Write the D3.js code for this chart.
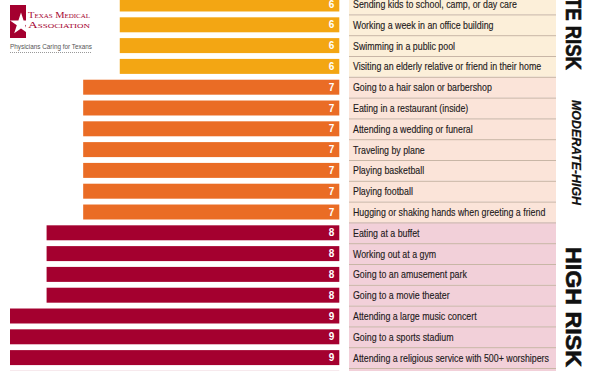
<!DOCTYPE html>
<html>
<head>
<meta charset="utf-8">
<script src="https://cdn.jsdelivr.net/npm/d3@7"></script>
<style>
  body { margin: 0; background: #fff; }
  svg { display: block; }
  .lbl { font-family: "Liberation Sans", "Roboto", sans-serif; }
</style>
</head>
<body>
<div id="chart"></div>
<script>
// activities, top to bottom (last one is cut off by the bottom edge)
const activities = [
  "Sending kids to school, camp, or day care",
  "Working a week in an office building",
  "Swimming in a public pool",
  "Visiting an elderly relative or friend in their home",
  "Going to a hair salon or barbershop",
  "Eating in a restaurant (inside)",
  "Attending a wedding or funeral",
  "Traveling by plane",
  "Playing basketball",
  "Playing football",
  "Hugging or shaking hands when greeting a friend",
  "Eating at a buffet",
  "Working out at a gym",
  "Going to an amusement park",
  "Going to a movie theater",
  "Attending a large music concert",
  "Going to a sports stadium",
  "Attending a religious service with 500+ worshipers",
  "Going to a bar"
]
const riskScores = [6, 6, 6, 6, 7, 7, 7, 7, 7, 7, 7, 8, 8, 8, 8, 9, 9, 9, 9]
const riskGroups = ["MODERATE RISK", "MODERATE-HIGH", "HIGH RISK"]

const width = 600, height = 371

const barColor = d3.scaleOrdinal().domain([6, 7, 8, 9])
  .range(["#f3a613", "#ea6c25", "#a4002f", "#a4002f"])
const cellColor = d3.scaleOrdinal().domain([6, 7, 8, 9])
  .range(["#fcefd9", "#fbe4d9", "#f2d0d9", "#f2d0d9"])

const svg = d3.select("#chart").append("svg")
  .attr("width", width).attr("height", height)

const x = d3.scaleLinear().domain([0, 9]).range([339.3, 10])

const step = 20.8
const y = d3.scaleBand()
  .domain(d3.range(activities.length))
  .range([-6.4, -6.4 + activities.length * step])
  .paddingInner(0.28)
  .paddingOuter(0.14)

const rowTop = i => -6.4 + i * step

// text cells
const cellX = 349, cellW = 207
svg.append("g").selectAll("rect")
  .data(activities)
  .join("rect")
  .attr("x", cellX)
  .attr("y", (d, i) => rowTop(i))
  .attr("width", cellW)
  .attr("height", step)
  .attr("fill", (d, i) => cellColor(riskScores[i]))

svg.append("g").selectAll("line")
  .data(activities)
  .join("line")
  .attr("x1", cellX).attr("x2", cellX + cellW)
  .attr("y1", (d, i) => rowTop(i) + 0.5)
  .attr("y2", (d, i) => rowTop(i) + 0.5)
  .attr("stroke", "#c8b6a6")
  .attr("stroke-width", 1)

// labels are squeezed sideways to look like a condensed face
const labels = svg.append("g")
labels.selectAll("text")
  .data(activities)
  .join("text")
  .attr("class", "lbl")
  .attr("x", 0)
  .attr("y", (d, i) => y(i) + y.bandwidth() / 2)
  .attr("dy", "0.36em")
  .attr("font-size", 11.4)
  .attr("fill", "#1e1a1b")
  .attr("stroke", "#1e1a1b")
  .attr("stroke-width", 0.15)
  .text(d => d)

// fit longest label to about 196px
const longest = d3.max(labels.selectAll("text").nodes(), n => n.getComputedTextLength())
labels.attr("transform", `translate(${cellX + 4},0) scale(${196 / longest},1)`)

// bars
svg.append("g").selectAll("rect")
  .data(riskScores)
  .join("rect")
  .attr("x", d => x(d))
  .attr("y", (d, i) => y(i))
  .attr("width", d => x(0) - x(d))
  .attr("height", y.bandwidth())
  .attr("fill", d => barColor(d))

svg.append("g").selectAll("text")
  .data(riskScores)
  .join("text")
  .attr("class", "lbl")
  .attr("x", x(0) - 5)
  .attr("y", (d, i) => y(i) + y.bandwidth() / 2)
  .attr("dy", "0.36em")
  .attr("text-anchor", "end")
  .attr("font-size", 10)
  .attr("font-weight", "bold")
  .attr("fill", "#fff")
  .text(d => d)

// rotated group labels
const groupLabel = (txt, gx, yEnd, len, size, italic) =>
  svg.append("text")
    .attr("class", "lbl")
    .attr("transform", `translate(${gx},${yEnd}) rotate(90)`)
    .attr("text-anchor", "end")
    .attr("font-size", size)
    .attr("font-weight", "bold")
    .attr("font-style", italic ? "italic" : "normal")
    .attr("textLength", len)
    .attr("lengthAdjust", "spacingAndGlyphs")
    .attr("fill", "#111")
    .attr("stroke", "#111")
    .attr("stroke-width", italic ? 0.2 : 0.6)
    .text(txt)

groupLabel(riskGroups[0], 566, 70, 154, 22, false)
groupLabel(riskGroups[1], 572, 205, 105, 12.5, true)
groupLabel(riskGroups[2], 566, 367, 120, 22, false)

// logo
const logo = svg.append("g")
logo.append("rect").attr("x", 10).attr("y", 5).attr("width", 16).attr("height", 33).attr("fill", "#a4002f")
logo.append("path")
  .attr("d", d3.symbol(d3.symbolStar, 150)())
  .attr("transform", "translate(21,24)")
  .attr("fill", "#fff")
const serif = (txt, ty) => logo.append("text").attr("x", 28).attr("y", ty)
  .attr("font-family", "Liberation Serif, serif").attr("font-size", 9)
  .attr("font-variant", "small-caps")
  .attr("textLength", 62).attr("lengthAdjust", "spacingAndGlyphs")
  .attr("fill", "#a4002f").text(txt)
serif("Texas Medical", 18)
serif("Association", 28)
logo.append("text").attr("x", 10).attr("y", 49)
  .attr("font-family", "Liberation Sans, sans-serif").attr("font-size", 6.6)
  .attr("textLength", 82).attr("lengthAdjust", "spacingAndGlyphs")
  .attr("fill", "#555").text("Physicians Caring for Texans")
logo.append("line").attr("x1", 10).attr("x2", 92).attr("y1", 52.5).attr("y2", 52.5)
  .attr("stroke", "#999").attr("stroke-dasharray", "1,1")
</script>
</body>
</html>
